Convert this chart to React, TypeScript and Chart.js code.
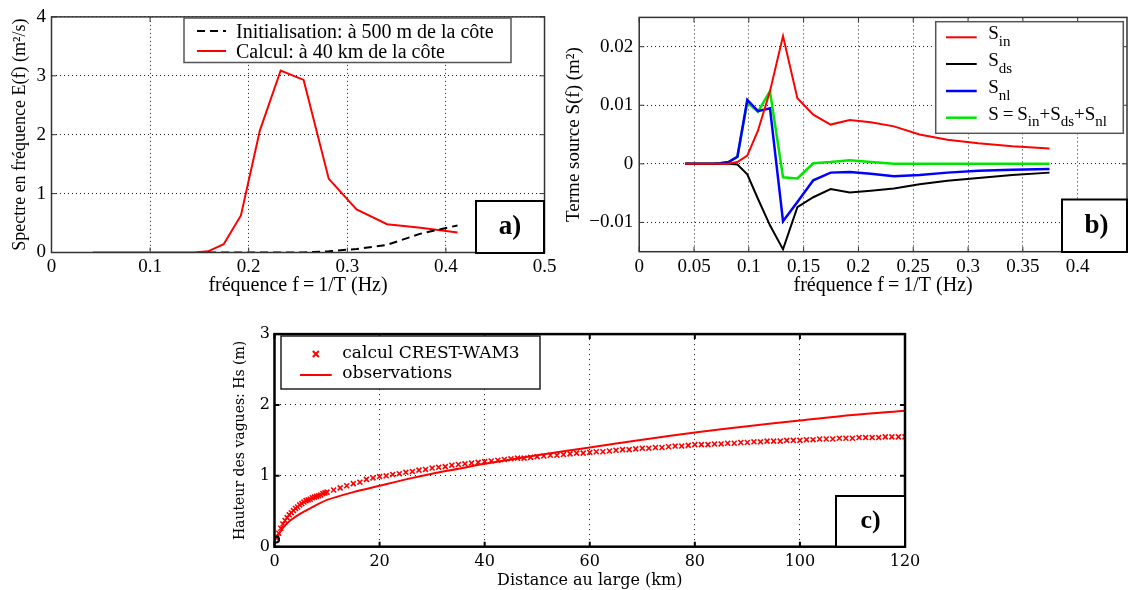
import React, { useEffect, useRef } from 'react';
import { Chart, registerables } from 'chart.js';
Chart.register(...registerables);

const SERIF = "'Liberation Serif', 'Times New Roman', serif";
const DEJAVU = "'DejaVu Serif', serif";

// ---------- a) spectre ----------
const freqA = [0.0418, 0.046, 0.0506, 0.0556, 0.0612, 0.0673, 0.0741, 0.0815, 0.0896, 0.0986, 0.1084, 0.1193, 0.1312, 0.1443, 0.1588, 0.1746, 0.1921, 0.2113, 0.2324, 0.2557, 0.2812, 0.3094, 0.3403, 0.3743, 0.4118];
const calcul40km = [0, 0, 0, 0, 0, 0, 0, 0, 0, 0, 0, 0, 0, 0, 0.02, 0.14, 0.63, 2.07, 3.09, 2.93, 1.25, 0.73, 0.48, 0.42, 0.34];
const freqInit = [0.1588, 0.1746, 0.1921, 0.2113, 0.2324, 0.2557, 0.2812, 0.3094, 0.3403, 0.3743, 0.4118];
const init500m = [0, 0, 0, 0, 0, 0, 0.02, 0.06, 0.13, 0.32, 0.46];
const legendA = ['Initialisation: à 500 m de la côte', 'Calcul: à 40 km de la côte'];
const ticksAx = [0, 0.1, 0.2, 0.3, 0.4, 0.5];
const ticksAy = [0, 1, 2, 3, 4];

// ---------- b) termes source ----------
const freqB = [0.0418, 0.046, 0.0506, 0.0556, 0.0612, 0.0673, 0.0741, 0.0815, 0.0896, 0.0986, 0.1084, 0.1193, 0.1312, 0.1443, 0.1588, 0.1746, 0.1921, 0.2113, 0.2324, 0.2557, 0.2812, 0.3094, 0.3403, 0.3743];
const sIn = [0, 0, 0, 0, 0, 0, 0, 0, 0.0003, 0.0014, 0.0057, 0.0124, 0.0218, 0.0112, 0.0084, 0.0067, 0.0075, 0.0071, 0.0064, 0.005, 0.0041, 0.0035, 0.003, 0.0026];
const sDs = [0, 0, 0, 0, 0, 0, 0, 0, -0.0001, -0.0018, -0.006, -0.0105, -0.0146, -0.0074, -0.0057, -0.0043, -0.0049, -0.0046, -0.0042, -0.0035, -0.0029, -0.0024, -0.0019, -0.0015];
const sNl = [0, 0, 0, 0, 0, 0, 0.0001, 0.0003, 0.0012, 0.0109, 0.009, 0.0095, -0.0098, -0.0065, -0.0028, -0.0015, -0.0014, -0.0017, -0.0021, -0.0019, -0.0015, -0.0012, -0.001, -0.0009];
const sTot = [0, 0, 0, 0, 0, 0, 0.0001, 0.0003, 0.0012, 0.0105, 0.0089, 0.0124, -0.0023, -0.0025, 0.0001, 0.0003, 0.0006, 0.0003, 0, 0, 0, 0, 0, 0];
const ticksBx = [0, 0.05, 0.1, 0.15, 0.2, 0.25, 0.3, 0.35, 0.4];
const ticksBy = [-0.01, 0, 0.01, 0.02];

// ---------- c) hauteur des vagues ----------
const wamKm = [0.4, 0.8, 1.2, 1.6, 2, 2.4, 2.8, 3.2, 3.6, 4, 4.4, 4.8, 5.2, 5.6, 6, 6.4, 6.8, 7.2, 7.6, 8, 8.4, 8.8, 9.2, 9.6, 10,
  11.25, 12.5, 13.75, 15, 16.25, 17.5, 18.75, 20, 21.25, 22.5, 23.75, 25, 26.25, 27.5, 28.75, 30, 31.25, 32.5, 33.75, 35, 36.25, 37.5, 38.75, 40,
  41.25, 42.5, 43.75, 45, 46.25, 47.5, 48.75, 50, 51.25, 52.5, 53.75, 55, 56.25, 57.5, 58.75, 60, 61.25, 62.5, 63.75, 65, 66.25, 67.5, 68.75, 70,
  71.25, 72.5, 73.75, 75, 76.25, 77.5, 78.75, 80, 81.25, 82.5, 83.75, 85, 86.25, 87.5, 88.75, 90, 91.25, 92.5, 93.75, 95, 96.25, 97.5, 98.75, 100,
  101.25, 102.5, 103.75, 105, 106.25, 107.5, 108.75, 110, 111.25, 112.5, 113.75, 115, 116.25, 117.5, 118.75, 120];
const wamHs = [0.12, 0.19, 0.26, 0.32, 0.37, 0.41, 0.45, 0.48, 0.51, 0.54, 0.56, 0.59, 0.61, 0.63, 0.65, 0.66, 0.67, 0.69, 0.7, 0.71, 0.72, 0.73, 0.75, 0.76, 0.77,
  0.8, 0.83, 0.86, 0.89, 0.91, 0.95, 0.97, 0.99, 1.0, 1.02, 1.03, 1.05, 1.06, 1.08, 1.09, 1.11, 1.12, 1.13, 1.15, 1.16, 1.17, 1.18, 1.19, 1.2,
  1.21, 1.22, 1.23, 1.24, 1.25, 1.25, 1.26, 1.27, 1.28, 1.29, 1.29, 1.3, 1.31, 1.32, 1.32, 1.33, 1.34, 1.34, 1.35, 1.36, 1.37, 1.37, 1.38, 1.39,
  1.39, 1.4, 1.4, 1.41, 1.42, 1.42, 1.43, 1.44, 1.44, 1.44, 1.45, 1.45, 1.46, 1.46, 1.47, 1.47, 1.48, 1.48, 1.49, 1.49, 1.49, 1.5, 1.5, 1.5,
  1.51, 1.51, 1.52, 1.52, 1.52, 1.53, 1.53, 1.53, 1.54, 1.54, 1.54, 1.54, 1.55, 1.55, 1.55, 1.55];
const obsKm = [0.5, 1, 2, 3, 5, 7, 10, 15, 20, 25, 30, 35, 40, 50, 60, 70, 80, 90, 100, 110, 120];
const obsHs = [0.12, 0.2, 0.3, 0.37, 0.47, 0.55, 0.66, 0.77, 0.86, 0.95, 1.03, 1.1, 1.17, 1.29, 1.4, 1.51, 1.61, 1.7, 1.78, 1.86, 1.92];
const startKm = [0.3];
const startHs = [0.1];
const ticksCx = [0, 20, 40, 60, 80, 100, 120];
const ticksCy = [0, 1, 2, 3];

const pts = (xs: number[], ys: number[]) => xs.map((x, i) => ({ x, y: ys[i] }));
const fmt = (v: any) => {
  const n = +Number(v).toFixed(4);
  return n < 0 ? '\u2212' + String(-n) : String(n);
};

// ---------- plugins ----------
const framePlugin = {
  id: 'frame',
  afterDatasetsDraw(chart: any, _a: any, o: any) {
    const { ctx, chartArea: a } = chart;
    const xs = chart.scales.x, ys = chart.scales.y;
    ctx.save();
    ctx.setLineDash([]);
    ctx.strokeStyle = o.color;
    ctx.lineWidth = o.tickWidth;
    ctx.beginPath();
    xs.ticks.forEach((t: any) => {
      const p = xs.getPixelForValue(t.value);
      ctx.moveTo(p, a.bottom); ctx.lineTo(p, a.bottom - o.tick);
      ctx.moveTo(p, a.top); ctx.lineTo(p, a.top + o.tick);
    });
    ys.ticks.forEach((t: any) => {
      const p = ys.getPixelForValue(t.value);
      ctx.moveTo(a.left, p); ctx.lineTo(a.left + o.tick, p);
      ctx.moveTo(a.right, p); ctx.lineTo(a.right - o.tick, p);
    });
    ctx.stroke();
    ctx.lineWidth = o.width;
    ctx.strokeRect(a.left, a.top, a.right - a.left, a.bottom - a.top);
    ctx.restore();
  },
};

const legendBoxPlugin = {
  id: 'legendBox',
  afterDatasetsDraw(chart: any, _a: any, o: any) {
    if (!o || !o.box) return;
    const { ctx } = chart;
    const [x1, y1, x2, y2] = o.box;
    ctx.save();
    ctx.fillStyle = '#fff';
    ctx.fillRect(x1, y1, x2 - x1, y2 - y1);
    ctx.strokeStyle = o.borderColor;
    ctx.lineWidth = o.borderWidth;
    ctx.setLineDash([]);
    ctx.strokeRect(x1, y1, x2 - x1, y2 - y1);
    o.items.forEach((it: any, i: number) => {
      const y = o.rows[i];
      ctx.strokeStyle = it.color;
      ctx.lineWidth = it.width;
      if (it.marker === 'cross') {
        const cx = (o.lineX[0] + o.lineX[1]) / 2, r = it.size;
        ctx.setLineDash([]);
        ctx.beginPath();
        ctx.moveTo(cx - r, y - r); ctx.lineTo(cx + r, y + r);
        ctx.moveTo(cx - r, y + r); ctx.lineTo(cx + r, y - r);
        ctx.stroke();
      } else {
        ctx.setLineDash(it.dash || []);
        ctx.beginPath();
        ctx.moveTo(o.lineX[0], y); ctx.lineTo(o.lineX[1], y);
        ctx.stroke();
        ctx.setLineDash([]);
      }
      let x = o.textX;
      ctx.fillStyle = '#000';
      ctx.textBaseline = 'alphabetic';
      ctx.textAlign = 'left';
      it.text.forEach((seg: any) => {
        const sub = typeof seg !== 'string';
        const str = sub ? seg.sub : seg;
        ctx.font = sub ? o.subFont : o.font;
        ctx.fillText(str, x, y + (sub ? o.subDy : o.dy) + (it.dy || 0));
        x += ctx.measureText(str).width;
      });
    });
    ctx.restore();
  },
};

const tagPlugin = {
  id: 'tag',
  afterDatasetsDraw(chart: any, _a: any, o: any) {
    if (!o || !o.box) return;
    const { ctx } = chart;
    const [x1, y1, x2, y2] = o.box;
    ctx.save();
    ctx.fillStyle = '#fff';
    ctx.fillRect(x1, y1, x2 - x1, y2 - y1);
    ctx.strokeStyle = '#000';
    ctx.lineWidth = o.width;
    ctx.setLineDash([]);
    ctx.strokeRect(x1, y1, x2 - x1, y2 - y1);
    ctx.fillStyle = '#000';
    ctx.font = o.font;
    ctx.textAlign = 'center';
    ctx.textBaseline = 'middle';
    ctx.fillText(o.text, (x1 + x2) / 2 + (o.dx || 0), (y1 + y2) / 2 + (o.dy || 0));
    ctx.restore();
  },
};

// ---------- helpers ----------
function scale(o: any) {
  return {
    type: 'linear',
    min: o.min,
    max: o.max,
    afterFit: (s: any) => {
      if (o.horizontal) s.height = o.size; else s.width = o.size;
    },
    afterBuildTicks: (s: any) => {
      s.ticks = o.ticks.map((v: number) => ({ value: v }));
    },
    ticks: {
      includeBounds: false,
      padding: o.tickPad,
      color: '#000',
      maxRotation: 0,
      autoSkip: false,
      font: { family: o.family, size: o.fontSize },
      callback: fmt,
    },
    grid: { color: o.gridColor, lineWidth: 1, drawTicks: false },
    border: { display: false, dash: o.dash },
    title: {
      display: true,
      text: o.title,
      color: '#000',
      font: { family: o.family, size: o.titleSize || o.fontSize },
      padding: o.titlePad,
    },
  };
}

function ChartCanvas({ left, top, width, height, make }: any) {
  const ref = useRef<HTMLCanvasElement>(null);
  useEffect(() => {
    const chart = new Chart(ref.current as HTMLCanvasElement, make());
    return () => chart.destroy();
  }, []);
  return (
    <canvas
      ref={ref}
      width={width}
      height={height}
      style={{ position: 'absolute', left, top, width, height }}
    />
  );
}

const baseOptions = (padding: any, scales: any, plugins: any) => ({
  responsive: false,
  animation: false,
  devicePixelRatio: 1,
  layout: { padding },
  scales,
  plugins: { legend: { display: false }, tooltip: { enabled: false }, ...plugins },
});

const makeA = () => ({
  type: 'line',
  data: {
    datasets: [
      { label: legendA[0], data: pts(freqInit, init500m), borderColor: '#000', borderWidth: 2, borderDash: [8, 5], pointRadius: 0, tension: 0 },
      { label: legendA[1], data: pts(freqA, calcul40km), borderColor: '#ff0000', borderWidth: 2, pointRadius: 0, tension: 0 },
    ],
  },
  options: baseOptions(
    { top: 16, right: 14.5, left: 0, bottom: 0 },
    {
      x: scale({ horizontal: true, min: 0, max: 0.5, ticks: ticksAx, size: 47.5, tickPad: 3.6, family: SERIF, fontSize: 19, titleSize: 20, gridColor: '#222', dash: [1, 3], title: 'fréquence f\u2009=\u20091/T (Hz)', titlePad: { top: 0, bottom: 2 } }),
      y: scale({ min: 0, max: 4, ticks: ticksAy, size: 51.5, tickPad: 5.5, family: SERIF, fontSize: 19, titleSize: 18, gridColor: '#222', dash: [1, 3], title: 'Spectre en fréquence E(f) (m²/s)', titlePad: { top: 9.2, bottom: 0 } }),
    },
    {
      frame: { color: '#333', width: 1.5, tick: 5, tickWidth: 1 },
      legendBox: {
        box: [184, 18, 511, 62.5], borderColor: '#555', borderWidth: 1.5,
        rows: [31, 51], lineX: [197, 226], textX: 236, dy: 6.5, subDy: 0,
        font: `20px ${SERIF}`, subFont: `14px ${SERIF}`,
        items: [
          { color: '#000', width: 2, dash: [8, 5], text: [legendA[0]] },
          { color: '#ff0000', width: 2, text: [legendA[1]] },
        ],
      },
      tag: { box: [476, 201, 544, 253], width: 2, text: 'a)', font: `bold 27px ${SERIF}`, dx: 0, dy: 0 },
    },
  ),
  plugins: [framePlugin, legendBoxPlugin, tagPlugin],
});

const makeB = () => ({
  type: 'line',
  data: {
    datasets: [
      { label: 'S_in', data: pts(freqB, sIn), borderColor: '#ff0000', borderWidth: 2, pointRadius: 0, tension: 0 },
      { label: 'S_ds', data: pts(freqB, sDs), borderColor: '#000', borderWidth: 2, pointRadius: 0, tension: 0 },
      { label: 'S_nl', data: pts(freqB, sNl), borderColor: '#0000ff', borderWidth: 2.5, pointRadius: 0, tension: 0 },
      { label: 'S', data: pts(freqB, sTot), borderColor: '#00e600', borderWidth: 2.5, pointRadius: 0, tension: 0 },
    ],
  },
  options: baseOptions(
    { top: 16, right: 1, left: 0, bottom: 0 },
    {
      x: scale({ horizontal: true, min: 0, max: 0.445, ticks: ticksBx, size: 48.3, tickPad: 3.6, family: SERIF, fontSize: 19, titleSize: 20, gridColor: '#222', dash: [1, 3], title: 'fréquence f\u2009=\u20091/T (Hz)', titlePad: { top: 0, bottom: 2 } }),
      y: scale({ min: -0.015, max: 0.025, ticks: ticksBy, size: 79.2, tickPad: 6, family: SERIF, fontSize: 19, titleSize: 19, gridColor: '#222', dash: [1, 3], title: 'Terme source S(f) (m²)', titlePad: { top: 2.6, bottom: 0 } }),
    },
    {
      frame: { color: '#333', width: 1.5, tick: 5, tickWidth: 1 },
      legendBox: {
        box: [375.7, 21.7, 563.3, 133.3], borderColor: '#555', borderWidth: 1.5,
        rows: [37.3, 64, 91, 117.7], lineX: [386, 416.7], textX: 428.3, dy: 2, subDy: 8.5,
        font: `19px ${SERIF}`, subFont: `15px ${SERIF}`,
        items: [
          { color: '#ff0000', width: 2, text: ['S', { sub: 'in' }] },
          { color: '#000', width: 2, text: ['S', { sub: 'ds' }] },
          { color: '#0000ff', width: 2.5, text: ['S', { sub: 'nl' }] },
          { color: '#00e600', width: 2.5, text: ['S\u2009=\u2009S', { sub: 'in' }, '+S', { sub: 'ds' }, '+S', { sub: 'nl' }] },
        ],
      },
      tag: { box: [502, 199.5, 567, 252], width: 2, text: 'b)', font: `bold 27px ${SERIF}`, dx: 2, dy: 0 },
    },
  ),
  plugins: [framePlugin, legendBoxPlugin, tagPlugin],
});

const makeC = () => ({
  type: 'line',
  data: {
    datasets: [
      { label: 'départ', data: pts(startKm, startHs), showLine: false, pointStyle: 'circle', pointRadius: 3, pointBorderWidth: 2, pointBorderColor: '#000', pointBackgroundColor: 'rgba(0,0,0,0)' },
      { label: 'calcul CREST-WAM3', data: pts(wamKm, wamHs), showLine: false, pointStyle: 'crossRot', pointRadius: 3.5, pointBorderWidth: 1.6, pointBorderColor: '#ff0000', borderColor: '#ff0000' },
      { label: 'observations', data: pts(obsKm, obsHs), borderColor: '#ff0000', borderWidth: 2, pointRadius: 0, tension: 0.3 },
    ],
  },
  options: baseOptions(
    { top: 12.7, right: 35, left: 0, bottom: 0 },
    {
      x: scale({ horizontal: true, min: 0, max: 120, ticks: ticksCx, size: 43.3, tickPad: 5.4, family: DEJAVU, fontSize: 16, titleSize: 16, gridColor: '#111', dash: [1, 4], title: 'Distance au large (km)', titlePad: { top: 0, bottom: 0 } }),
      y: scale({ min: 0, max: 3, ticks: ticksCy, size: 54.5, tickPad: 4.5, family: DEJAVU, fontSize: 16, titleSize: 14, gridColor: '#111', dash: [1, 4], title: 'Hauteur des vagues: Hs (m)', titlePad: { top: 11.6, bottom: 0 } }),
    },
    {
      frame: { color: '#000', width: 2.5, tick: 5, tickWidth: 2 },
      legendBox: {
        box: [61, 16, 320, 69], borderColor: '#222', borderWidth: 1.5,
        rows: [34, 55], lineX: [80, 111.7], textX: 122.3, dy: 5, subDy: 0,
        font: `17px ${DEJAVU}`, subFont: `12px ${DEJAVU}`,
        items: [
          { marker: 'cross', color: '#ff0000', width: 2, size: 3, text: ['calcul CREST-WAM3'], dy: -1 },
          { color: '#ff0000', width: 2, text: ['observations'], dy: -2 },
        ],
      },
      tag: { box: [616, 176, 685, 226.7], width: 2, text: 'c)', font: `bold 26px ${SERIF}`, dx: 0, dy: 0 },
    },
  ),
  plugins: [framePlugin, legendBoxPlugin, tagPlugin],
});

export default function App() {
  return (
    <div style={{ position: 'absolute', left: 0, top: 0, width: 1128, height: 590, background: '#fff', overflow: 'hidden' }}>
      <ChartCanvas left={0} top={0} width={560} height={300} make={makeA} />
      <ChartCanvas left={560} top={0} width={568} height={300} make={makeB} />
      <ChartCanvas left={220} top={320} width={720} height={270} make={makeC} />
    </div>
  );
}
